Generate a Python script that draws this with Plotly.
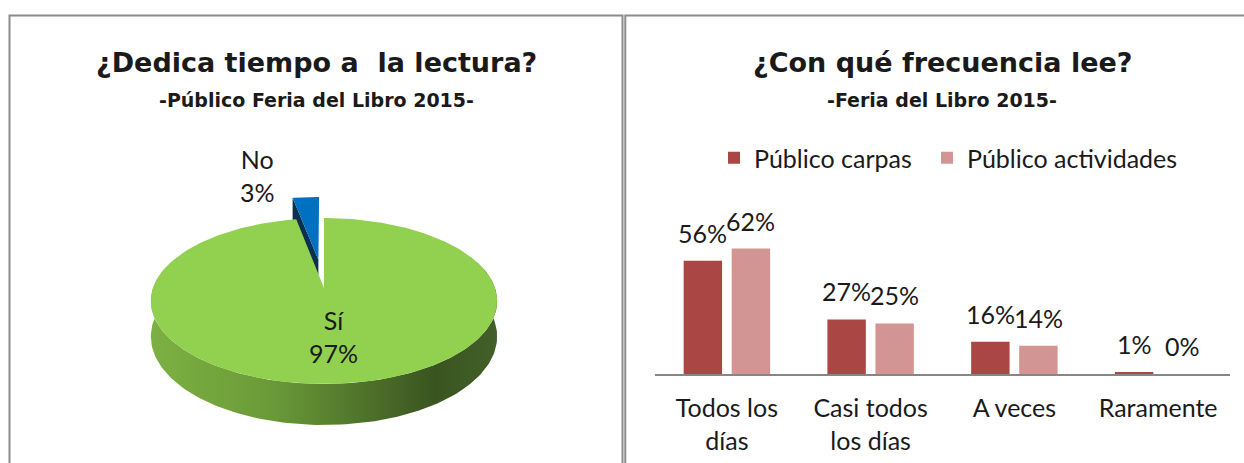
import numpy as np
import plotly.graph_objects as go

# ---------------- data ----------------
pie_labels = ["Sí", "No"]
pie_values = [0.97, 0.03]

freq_categories = ["Todos los<br>días", "Casi todos<br>los días", "A veces", "Raramente"]
series_names = ["Público carpas", "Público actividades"]
carpas = [0.56, 0.27, 0.16, 0.01]
actividades = [0.62, 0.25, 0.14, 0.00]

# ---------------- styling ----------------
W, H = 1244, 463
FONT = "Lato"
TITLE_FONT = "DejaVu Sans"
TXT = "#1a1a1a"
BORDER = "#8c8c8c"
BAR_COLORS = ["#AA4643", "#D39593"]
BARGAP = 0.332
FS = 25
LEGEND_X = [714, 927]    # left edge of each legend entry (px)

# 3-D pie drawn in a pixel frame (x2 / y2)
CX, CY = 324, 288        # projected pie centre
RX, RY = 171, 80.9       # rim radii
PERSP = -0.157           # perspective: front of the disc larger than the back
DEPTH = 34.6             # wall height
EXPLODE = [0.0, 0.37]    # radial pull-out of each slice
TOP_COLORS = ["#92D050", "#0070C0"]
CUT_COLORS = ["#4F742A", "#0C3050"]
SIDE_SCALE = [[0.0, "#7DB043"], [0.35, "#6A9A38"], [0.62, "#4E722A"],
              [0.82, "#3A5420"], [1.0, "#42602A"]]


def project(u, v):
    s = 1 + PERSP * v
    return CX + RX * u / s, CY + RY * v / s


def wall(v):
    return DEPTH / (1 + PERSP * v)


fig = go.Figure()


def poly(xs, ys, **kw):
    xs = list(xs) + [xs[0]]
    ys = list(ys) + [ys[0]]
    fig.add_trace(go.Scatter(x=xs, y=ys, xaxis="x2", yaxis="y2", mode="lines",
                             fill="toself", line=dict(width=0), hoverinfo="skip",
                             showlegend=False, **kw))


# slice angles (clockwise from 12 o'clock)
bounds = np.concatenate([[0], np.cumsum(pie_values)]) * 2 * np.pi
slices = []
for i, val in enumerate(pie_values):
    a0, a1 = bounds[i], bounds[i + 1]
    mid = (a0 + a1) / 2
    du, dv = EXPLODE[i] * np.sin(mid), -EXPLODE[i] * np.cos(mid)
    slices.append((a0, a1, mid, du, dv))

# exploded "No" slice: visible cut face, then its top
a0, a1, mid, du, dv = slices[1]
cx_, cy_ = project(du, dv)
rx_, ry_ = project(du + np.sin(a0), dv - np.cos(a0))
poly([cx_, rx_, rx_, cx_],
     [cy_, ry_, ry_ + wall(dv - np.cos(a0)), cy_ + wall(dv)],
     fillcolor=CUT_COLORS[1])
t = np.linspace(a0, a1, 20)
pts = [project(du + np.sin(tt), dv - np.cos(tt)) for tt in t]
poly([cx_] + [p[0] for p in pts], [cy_] + [p[1] for p in pts],
     fillcolor=TOP_COLORS[1])

# "Sí" slice: front wall with shading, then top face
a0, a1, mid, du, dv = slices[0]
t = np.linspace(max(a0, np.pi / 2 - 0.35), min(a1, 3 * np.pi / 2 + 0.35), 160)
up = [project(du + np.sin(tt), dv - np.cos(tt)) for tt in t]
lo = [(p[0], p[1] + wall(dv - np.cos(tt))) for p, tt in zip(up, t)]
poly([p[0] for p in up] + [p[0] for p in lo[::-1]],
     [p[1] for p in up] + [p[1] for p in lo[::-1]],
     fillcolor="#5E8A2F",
     fillgradient=dict(type="horizontal", colorscale=SIDE_SCALE))
t = np.linspace(a0, a1, 300)
pts = [project(du + np.sin(tt), dv - np.cos(tt)) for tt in t]
c0 = project(du, dv)
poly([c0[0]] + [p[0] for p in pts], [c0[1]] + [p[1] for p in pts],
     fillcolor=TOP_COLORS[0])

annotations = []

# pie labels
a0, a1, mid, du, dv = slices[0]
lx, ly = project(du + 0.55 * np.sin(mid), dv - 0.55 * np.cos(mid))
annotations.append(dict(x=lx, y=ly, xref="x2", yref="y2", showarrow=False,
                        xanchor="center", yanchor="middle",
                        text=f"{pie_labels[0]}<br>{pie_values[0]:.0%}",
                        font=dict(family=FONT, size=FS, color=TXT)))
a0, a1, mid, du, dv = slices[1]
ox, oy = project(du + np.sin(a0), dv - np.cos(a0))
annotations.append(dict(x=ox, y=oy, xref="x2", yref="y2", showarrow=False,
                        xanchor="right", yanchor="middle", xshift=-16, yshift=22,
                        text=f"{pie_labels[1]}<br>{pie_values[1]:.0%}",
                        font=dict(family=FONT, size=FS, color=TXT)))

# grouped bars, each series with its own legend entry
xs = list(range(len(freq_categories)))
legend_ids = ["legend", "legend2"]
for name, vals, col, lid in zip(series_names, [carpas, actividades], BAR_COLORS, legend_ids):
    fig.add_trace(go.Bar(x=xs, y=vals, name=name, marker_color=col,
                         marker_line_width=0, hoverinfo="skip", legend=lid))

# value labels above each bar
offset = (1 - BARGAP) / 4
for k, vals in enumerate([carpas, actividades]):
    for i, v in enumerate(vals):
        annotations.append(dict(x=i + (2 * k - 1) * offset, y=v, xref="x", yref="y",
                                text=f"{v:.0%}", showarrow=False, yshift=28,
                                xanchor="center", yanchor="middle",
                                font=dict(family=FONT, size=FS, color=TXT)))

# titles
for cxp, title, sub in [(316, "¿Dedica tiempo a\u00a0 la lectura?", "-Público Feria del Libro 2015-"),
                        (942, "¿Con qué frecuencia lee?", "-Feria del Libro 2015-")]:
    annotations.append(dict(x=cxp / W, y=(H - 62) / H, xref="paper", yref="paper",
                            xanchor="center", yanchor="middle",
                            text=f"<b>{title}</b>", showarrow=False,
                            font=dict(family=TITLE_FONT, size=27, color=TXT)))
    annotations.append(dict(x=cxp / W, y=(H - 100) / H, xref="paper", yref="paper",
                            xanchor="center", yanchor="middle",
                            text=f"<b>{sub}</b>", showarrow=False,
                            font=dict(family=TITLE_FONT, size=19, color=TXT)))

# panel frames
shapes = [
    dict(type="rect", xref="paper", yref="paper", x0=9.5 / W, x1=622.5 / W,
         y0=-0.1, y1=(H - 15.5) / H, line=dict(color=BORDER, width=2)),
    dict(type="rect", xref="paper", yref="paper", x0=625.3 / W, x1=1.1,
         y0=-0.1, y1=(H - 15.5) / H, line=dict(color=BORDER, width=2)),
]

legend_style = dict(orientation="h", xanchor="left", y=(H - 158) / H, yanchor="middle",
                    font=dict(family=FONT, size=FS, color=TXT),
                    bgcolor="rgba(0,0,0,0)")

fig.update_layout(
    width=W, height=H,
    margin=dict(l=0, r=0, t=0, b=0),
    paper_bgcolor="white", plot_bgcolor="rgba(0,0,0,0)",
    barmode="group", bargap=BARGAP, bargroupgap=0.2,
    font=dict(family=FONT, color=TXT),
    xaxis=dict(domain=[655 / W, 1230 / W], range=[-0.5, 3.5],
               tickvals=xs, ticktext=freq_categories, ticks="",
               showline=True, linecolor="#868686", linewidth=2,
               showgrid=False, zeroline=False, ticklabelstandoff=11,
               tickfont=dict(family=FONT, size=FS, color=TXT)),
    yaxis=dict(domain=[(H - 374) / H, (H - 232.4) / H], range=[0, 0.7],
               visible=False),
    xaxis2=dict(domain=[0, 0.5], range=[0, 622], visible=False, anchor="y2"),
    yaxis2=dict(domain=[0, 1], range=[H, 0], visible=False, anchor="x2"),
    legend=dict(x=LEGEND_X[0] / W, **legend_style),
    legend2=dict(x=LEGEND_X[1] / W, **legend_style),
    annotations=annotations,
    shapes=shapes,
    showlegend=True,
)

fig.write_html("out.html")
